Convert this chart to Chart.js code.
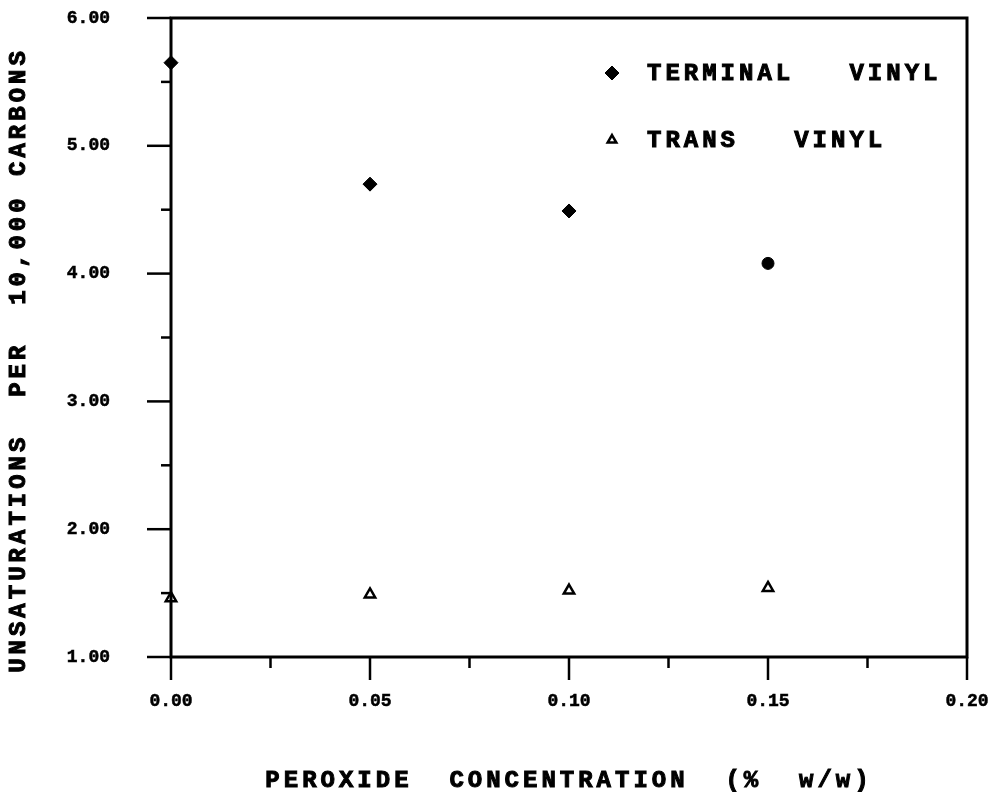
<!DOCTYPE html>
<html>
<head>
<meta charset="utf-8">
<script src="https://cdn.jsdelivr.net/npm/chart.js@4/dist/chart.umd.min.js"></script>
<style>
  html, body { margin: 0; padding: 0; background: #fff; }
  #wrap { width: 992px; height: 792px; position: relative; }
</style>
</head>
<body>
<div id="wrap"><canvas id="myChart"></canvas></div>
<script>
// Data
const concentration = [0.00, 0.05, 0.10, 0.15];
const terminalVinyl = [5.65, 4.70, 4.49, 4.08];
const transVinyl = [1.46, 1.49, 1.52, 1.54];

const seriesLabels = ['TERMINAL   VINYL', 'TRANS   VINYL'];
const xTitle = 'PEROXIDE  CONCENTRATION  (%  w/w)';
const yTitle = 'UNSATURATIONS  PER  10,000 CARBONS';

const xTicks = [0.00, 0.05, 0.10, 0.15, 0.20];
const yTicks = [1, 2, 3, 4, 5, 6];

const FONT = "'Liberation Mono', 'Courier New', monospace";

const toPoints = (xs, ys) => xs.map((x, i) => ({ x: x, y: ys[i] }));

// Tick marks, frame, axis titles and legend
const decorations = {
   id: 'decorations',
   afterDraw(chart) {
      const ctx = chart.ctx;
      const area = chart.chartArea;
      const xs = chart.scales.x;
      const ys = chart.scales.y;

      ctx.save();
      ctx.strokeStyle = '#000';
      ctx.lineWidth = 3;
      ctx.strokeRect(area.left, area.top, area.right - area.left, area.bottom - area.top);

      // x ticks: major every 0.05, minor in between
      ctx.lineWidth = 2.5;
      for (let i = 0; i <= 8; i++) {
         const px = xs.getPixelForValue(i * 0.025);
         const len = i % 2 === 0 ? 23 : 11;
         ctx.beginPath();
         ctx.moveTo(px, area.bottom);
         ctx.lineTo(px, area.bottom + len);
         ctx.stroke();
      }
      // y ticks: major every 1, minor at halves
      for (let i = 0; i <= 10; i++) {
         const py = ys.getPixelForValue(1 + i * 0.5);
         const len = i % 2 === 0 ? 24 : 10;
         ctx.beginPath();
         ctx.moveTo(area.left, py);
         ctx.lineTo(area.left - len, py);
         ctx.stroke();
      }

      // axis titles (filled + thin stroke to get the heavy typewriter look)
      ctx.fillStyle = '#000';
      ctx.lineWidth = 1;
      ctx.font = 'bold 24px ' + FONT;
      ctx.letterSpacing = '4px';
      ctx.textAlign = 'center';
      ctx.textBaseline = 'middle';
      const cx = (area.left + area.right) / 2;
      ctx.fillText(xTitle, cx, 781);
      ctx.strokeText(xTitle, cx, 781);

      ctx.save();
      ctx.translate(19, 360);
      ctx.rotate(-Math.PI / 2);
      ctx.fillText(yTitle, 0, 0);
      ctx.strokeText(yTitle, 0, 0);
      ctx.restore();

      // legend inside the plot
      ctx.textAlign = 'left';
      const rows = [73, 140];
      chart.data.datasets.forEach((ds, i) => {
         ctx.fillStyle = ds.backgroundColor;
         ctx.strokeStyle = '#000';
         ctx.lineWidth = ds.borderWidth;
         Chart.helpers.drawPoint(ctx, {
            pointStyle: ds.legendStyle,
            radius: ds.legendRadius,
            borderWidth: ds.borderWidth,
            rotation: 0
         }, 612, rows[i]);
         ctx.fillStyle = '#000';
         ctx.lineWidth = 1;
         ctx.fillText(seriesLabels[i], 647, rows[i] + 1);
         ctx.strokeText(seriesLabels[i], 647, rows[i] + 1);
      });
      ctx.restore();
   }
};

const ctx = document.querySelector('#myChart');

const data = {
   datasets: [
      {
         label: seriesLabels[0],
         data: toPoints(concentration, terminalVinyl),
         pointStyle: ['rectRot', 'rectRot', 'rectRot', 'circle'],
         pointRadius: [7, 7, 7, 6],
         backgroundColor: '#000',
         borderColor: '#000',
         borderWidth: 1,
         legendStyle: 'rectRot',
         legendRadius: 7,
         clip: false
      },
      {
         label: seriesLabels[1],
         data: toPoints(concentration, transVinyl),
         pointStyle: 'triangle',
         pointRadius: 6,
         backgroundColor: '#fff',
         borderColor: '#000',
         borderWidth: 2.5,
         legendStyle: 'triangle',
         legendRadius: 5,
         clip: false
      }
   ]
};

const tickFont = { family: FONT, size: 18, weight: 'bold' };

const config = {
   type: 'scatter',
   data: data,
   options: {
      responsive: true,
      maintainAspectRatio: false,
      animation: false,
      events: [],
      layout: {
         padding: { top: 18, right: 25, left: 0, bottom: 0 }
      },
      plugins: {
         legend: { display: false },
         tooltip: { enabled: false }
      },
      scales: {
         x: {
            type: 'linear',
            min: 0,
            max: 0.2,
            afterFit: (scale) => {
               scale.height = 135;
               scale.paddingLeft = 0;
               scale.paddingRight = 0;
            },
            afterBuildTicks: (scale) => { scale.ticks = xTicks.map(v => ({ value: v })); },
            grid: { display: false },
            border: { display: false },
            ticks: {
               color: '#000',
               padding: 26,
               maxRotation: 0,
               font: tickFont,
               textStrokeColor: '#000',
               textStrokeWidth: 0.5,
               callback: (v) => v.toFixed(2)
            }
         },
         y: {
            type: 'linear',
            min: 1,
            max: 6,
            afterFit: (scale) => {
               scale.width = 171;
               scale.paddingTop = 0;
               scale.paddingBottom = 0;
            },
            afterBuildTicks: (scale) => { scale.ticks = yTicks.map(v => ({ value: v })); },
            grid: { display: false },
            border: { display: false },
            ticks: {
               color: '#000',
               padding: 53,
               font: tickFont,
               textStrokeColor: '#000',
               textStrokeWidth: 0.5,
               callback: (v) => v.toFixed(2)
            }
         }
      }
   },
   plugins: [decorations]
};

const scatterChart = new Chart(ctx, config);
</script>
</body>
</html>
